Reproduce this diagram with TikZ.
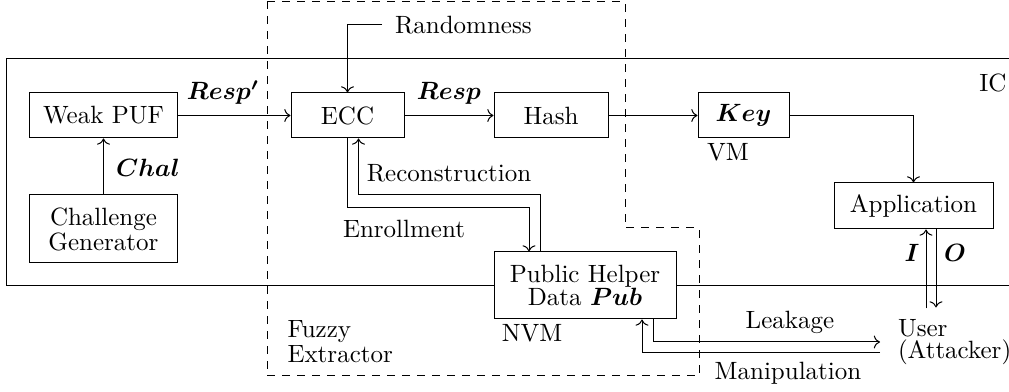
\documentclass[tikz,border=0pt]{standalone}
\usepackage{amsmath,amssymb}
\usepackage{tikz}
\usetikzlibrary{arrows.meta,calc}

\begin{document}
\begin{tikzpicture}[x=0.4pt,y=-0.4pt,
  block/.style={draw, fill=white, align=center, inner sep=2pt},
  lbl/.style={inner sep=0pt}]
\useasboundingbox (0,0) rectangle (1009,392);

% IC and fuzzy extractor borders
\draw (1009,59) -- (7,59) -- (7,286) -- (1009,286);
\draw[dashed] (267,2) -- (625,2) -- (625,228) -- (699,228) -- (699,376) -- (267,376) -- cycle;

\node[block, minimum width=58.8pt, minimum height=18pt] (puf) at (103.5,115.5) {Weak PUF};
\node[block, minimum width=58.8pt, minimum height=27.2pt] (chal) at (103.5,229) {Challenge\\[-2pt]Generator};
\node[block, minimum width=45.2pt, minimum height=18pt] (ecc) at (347.5,115.5) {ECC};
\node[block, minimum width=45.6pt, minimum height=18pt] (hash) at (551,115.5) {Hash};
\node[block, minimum width=36.4pt, minimum height=18pt] (key) at (743.5,115.5) {$\boldsymbol{Key}$};
\node[block, minimum width=63.6pt, minimum height=18.4pt] (app) at (913.5,206) {Application};
\node[block, minimum width=72.8pt, minimum height=26.8pt] (pub) at (585,285.5) {Public Helper\\[-3pt]Data $\boldsymbol{Pub}$};

\node[lbl, anchor=west, inner xsep=5pt] (rand) at (382,25) {Randomness};
\node[lbl, anchor=west, align=left, inner xsep=7pt] (user) at (880,342) {User\\[-3pt](Attacker)};

%labels
\node[lbl] (resp1) at (223,93) {$\boldsymbol{Resp'}$};
\node[lbl] (resp) at (449,93) {$\boldsymbol{Resp}$};
\node[lbl] (chl) at (148,168) {$\boldsymbol{Chal}$};
\node[lbl] (rec) at (449,173) {Reconstruction};
\node[lbl] (enr) at (404,229) {Enrollment};
\node[lbl] (vm) at (728,152) {VM};
\node[lbl] (nvm) at (532,333) {NVM};
\node[lbl, anchor=west, align=left] (fe) at (287,342) {Fuzzy\\[-2pt]Extractor};
\node[lbl] (ic) at (993,83) {IC};
\node[lbl] (leak) at (790,322) {Leakage};
\node[lbl] (manip) at (788,373) {Manipulation};
\node[lbl] (ilbl) at (912,253) {$\boldsymbol{I}$};
\node[lbl] (olbl) at (955,253) {$\boldsymbol{O}$};

\draw[->] (puf) -- (ecc);
\draw[->] (ecc) -- (hash);
\draw[->] (hash) -- (key);
\draw[->] (key) -| (app);
\draw[->] (chal) -- (puf);
\draw[->] (rand.west) -| (ecc.north);

\draw[->] (ecc.south) -- ++(0,69) -| ([xshift=-22.4pt]pub.north);
\draw[->] ([xshift=-18pt]pub.north) -- ++(0,-57) -| ([xshift=4.4pt]ecc.south);

\draw[->] ([xshift=27.2pt]pub.south) |- (user.west);
\draw[->] ([yshift=-4.4pt]user.west) -| ([xshift=22.8pt]pub.south);

\coordinate (iin) at ($(app.south)+(12.5,79)$);
\coordinate (oout) at ($(app.south)+(22.5,78)$);
\draw[->] (iin) -- (iin |- app.south);
\draw[->] (oout |- app.south) -- (oout);
\end{tikzpicture}
\end{document}
